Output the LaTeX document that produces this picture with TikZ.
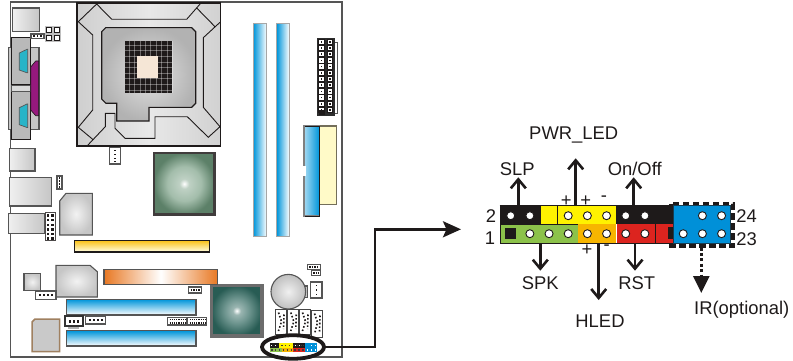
\documentclass[tikz,border=0pt]{standalone}
\usepackage{fontspec}
\setmainfont{Liberation Sans}
\usetikzlibrary{positioning, arrows.meta, shapes.geometric}
\definecolor{edgegray}{HTML}{555555}
\definecolor{inkdark}{HTML}{1E1A1A}
\definecolor{slotblue}{HTML}{0095DA}
\definecolor{jfpblue}{HTML}{0090D8}
\definecolor{jfpgreen}{HTML}{8CC24A}
\definecolor{jfporange}{HTML}{F7B500}
\definecolor{jfpred}{HTML}{DC241F}
\definecolor{jfpyellow}{HTML}{FFF200}
\definecolor{nbgreen}{HTML}{5C8068}
\definecolor{nbmid}{HTML}{A3BDAB}
\definecolor{sbteal}{HTML}{285C54}
\definecolor{sbmid}{HTML}{6F9690}
\pgfdeclareradialshading{nbglow}{\pgfpoint{0bp}{0bp}}{color(0bp)=(white); color(4bp)=(nbmid!70!white); color(14bp)=(nbmid); color(25bp)=(nbgreen); color(50bp)=(nbgreen)}
\pgfdeclareradialshading{sbglow}{\pgfpoint{0bp}{0bp}}{color(0bp)=(white); color(4bp)=(sbmid!70!white); color(12bp)=(sbmid); color(25bp)=(sbteal); color(50bp)=(sbteal)}
\tikzset{
  outline/.style={draw=edgegray, line width=1.1pt},
  chip/.style={outline, inner color=gray!10, outer color=gray!45},
  metal/.style={outline, left color=gray!12, right color=gray!45},
  slotv/.style={draw=gray!70, line width=1.2pt, left color=slotblue, middle color=slotblue!65!white, right color=white},
  sloth/.style={draw=edgegray, line width=1.1pt, top color=slotblue, bottom color=white},
  plug/.style={draw=edgegray, fill=white, line width=1.6pt},
  dot/.style={fill=inkdark, minimum size=1.8pt, inner sep=0pt},
  atxpin/.style={draw=inkdark, fill=white, line width=1pt, minimum size=5.4pt, inner sep=0pt},
  hole/.style={circle, draw=inkdark, fill=white, line width=.9pt, minimum size=8pt, inner sep=0pt},
  lbl/.style={text=inkdark, inner sep=0pt, font=\fontsize{18.4}{20}\selectfont},
  callout/.style={draw=inkdark, line width=2.6pt, -{Straight Barb[length=9pt,width=15pt]}},
}
\begin{document}
\begin{tikzpicture}[x=1pt,y=-1pt]
\useasboundingbox (0,0) rectangle (793,361);
% board
\draw[edgegray, line width=1.2pt] (10.5,2) rectangle (342,357);
% back panel
\draw[metal] (12.3,8) rectangle (39.7,31.7);
\draw[outline, fill=gray!45] (8.3,47.7) rectangle (39,129.3);
\draw[inkdark, fill=gray!55, line width=1pt] (11,37.3) rectangle (30.7,85);
\draw[inkdark, fill=gray!55, line width=1pt] (11,91.7) rectangle (30.7,139.3);
\draw[edgegray, fill=gray!30, line width=.8pt] (11,85) rectangle (30.7,91.7);
\draw[inkdark, fill={rgb,255:red,150;green,25;blue,125}, line width=.6pt] (30.7,67) -- (35.7,61) -- (38.7,61) -- (38.7,115.7) -- (35.7,115.7) -- (30.7,110) -- cycle;
\foreach \y in {0,54.7}
  \draw[edgegray, fill={rgb,255:red,40;green,180;blue,200}, line width=.7pt] (19.3,53+\y) -- (27,49.3+\y) -- (27.7,49.3+\y) -- (27.7,72.7+\y) -- (26.7,72.7+\y) -- (19.3,70+\y) -- cycle;
\draw[metal] (9.3,148.3) rectangle (35,171);
\draw[metal] (9.3,177.7) rectangle (51.7,206);
\draw[metal] (8.3,213.7) rectangle (45,233.3);
% socket
\draw[inkdark, line width=1.1pt, left color=gray!38, right color=gray!36, middle color=gray!18] (77,3) rectangle (220.7,146);
\draw[inkdark, line width=1.1pt, inner color=gray!22, outer color=gray!60] (101.7,31.7) -- (105.7,27.7) -- (191.7,27.7) -- (195.7,31.7) -- (195.7,103.3) -- (191.7,107.3) -- (149,107.3) -- (149,121) -- (116.7,121) -- (116.7,103.3) -- (106,103.3) -- (101.7,99) -- cycle;
\draw[inkdark, line width=.9pt] (78.3,21.7) -- (96.7,4) -- (111.7,19.3) -- (186.7,19.3) -- (200.7,3.3)
  (196.7,8) -- (215,26.7) (220,22.3) -- (203.3,37.7) -- (203.3,107.3) -- (220,126.7)
  (220,126.7) -- (208.3,137.3) -- (187.3,116.7) -- (155,116.7) -- (155,138.3) -- (125,138.3) -- (115,128.3) -- (115,113.3) -- (105.3,113.3) -- (105.3,126.7) -- (87.3,145.7)
  (78.3,21.7) -- (92.7,35) -- (92.7,110) -- (78.3,127.3) -- (92.7,139.3);
\fill[inkdark] (125,41) rectangle (172.3,92.7);
\foreach \i in {0,...,8} {
  \draw[white, opacity=.35, line width=.45pt] (125,45+5.6*\i) -- (172.3,45+5.6*\i);
  \draw[white, opacity=.35, line width=.45pt] (129+5.4*\i,41) -- (129+5.4*\i,92.7);
}
\fill[fill={rgb,255:red,245;green,230;blue,214}] (137,55.7) rectangle (158.3,77.7);
% chips
\draw[line width=2.6pt, draw=inkdark!85, shading=nbglow] (154,153) rectangle (214.5,214.5);
\draw[line width=3.4pt, draw=gray!85!black, shading=sbglow] (211.5,285.5) rectangle (262,336);
\draw[chip] (66,193.3) -- (92.3,193.3) -- (92.3,235) -- (59.7,235) -- (59.7,201) -- cycle;
\draw[chip] (56,265.3) -- (90,265.3) -- (97.3,271.7) -- (97.3,297) -- (56,297) -- cycle;
\draw[chip] (24,273.7) rectangle (40.7,290.3);
\draw[draw=brown!50!gray, line width=1.5pt, fill=gray!42] (35,319) -- (59.5,319) -- (59.5,351.5) -- (32,351.5) -- (32,322) -- cycle;
% slots
\draw[slotv] (253.3,23.3) rectangle (266.7,236.7);
\draw[slotv] (276.7,23.3) rectangle (289.3,236.7);
\draw[sloth] (66.3,299.3) rectangle (196,315);
\draw[sloth] (66.3,330.7) rectangle (196,346);
\draw[draw=inkdark, line width=1.1pt, top color={rgb,255:red,250;green,195;blue,30}, bottom color=white!90!yellow] (74.3,240.8) rectangle (209.3,252);
\draw[draw=edgegray, line width=1.1pt, left color={rgb,255:red,232;green,120;blue,35}, right color={rgb,255:red,232;green,120;blue,35}, middle color=white] (104,269.3) rectangle (217.7,284.3);
\draw[draw={rgb,255:red,115;green,110;blue,90}, line width=1.4pt, fill={rgb,255:red,255;green,250;blue,200}] (319.3,126) rectangle (336.7,204.3);
\draw[draw=gray, line width=1.4pt, left color=slotblue!35!white, right color=slotblue] (304,126) rectangle (319.3,216);
\draw[inkdark, line width=.9pt] (305,126) -- (319.3,126) -- (319.3,216) -- (305,216);
\fill[white] (303,166) rectangle (306,176);
% headers
\draw[edgegray, line width=.8pt] (335.3,42) -- (337.3,42) -- (337.3,113) -- (335.3,113);
\fill[gray!35!black] (316.7,37.7) rectangle (335.3,116);
\foreach \i in {0,...,11} {
  \node[atxpin] (atxa\i) at (321.5,41.8+6.2*\i) {};
  \node[atxpin] (atxb\i) at (330,41.8+6.2*\i) {};
  \node[dot, minimum size=1.6pt] (atxc\i) at (321.5,41.8+6.2*\i) {};
  \node[dot, minimum size=1.6pt] (atxd\i) at (330,41.8+6.2*\i) {};
}
\fill[inkdark] (319,110) rectangle (325,115);
\fill[gray!50] (45,26) rectangle (60.7,42.3);
\foreach \x/\y in {49/30,57/30,49/38,57/38} \node[atxpin] (atx\x\y) at (\x,\y) {};
\draw[plug] (31,34) rectangle (44,38.5);
\foreach \x in {34,37.5,41} \node[dot] (sm\x) at (\x,36.2) {};
\draw[plug] (109.5,147.5) rectangle (120.5,164);
\foreach \y in {150.5,154.5,158.5,161.5} \node[dot] (fan\y) at (115,\y) {};
\draw[plug] (57,175.7) rectangle (62,188.7);
\foreach \y in {178,181,184,187} \node[dot] (jp\y) at (59.5,\y) {};
\draw[inkdark!80, fill=white, line width=1pt] (45.6,212) rectangle (55,240.4);
\foreach \i in {0,...,5} {
  \node[dot, minimum size=2.4pt] (usba\i) at (48,215.5+4.6*\i) {};
  \node[dot, minimum size=2.4pt] (usbb\i) at (52.5,215.5+4.6*\i) {};
}
\draw[plug] (35.5,291) rectangle (56,299.5);
\foreach \x in {40,44,48,52} \node[dot] (sys\x) at (\x,295.3) {};
\fill[gray!60] (68,326) rectangle (79,329);
\draw[plug, line width=2pt, draw=gray!40!black] (65,316.3) rectangle (83,326.3);
\foreach \x in {70,74,78} \node[dot, minimum size=2.4pt] (pwr\x) at (\x,321.3) {};
\draw[plug] (85.6,316) rectangle (105.4,324);
\foreach \x in {90,94,98,102} \node[dot] (cd\x) at (\x,320) {};
\foreach \x in {167.5,187.5} {
  \draw[plug, line width=1.3pt] (\x,317.5) rectangle (\x+19,325);
  \draw[inkdark, line width=1.2pt, densely dotted] (\x+2,319.5) -- (\x+18,319.5) (\x+2,323) -- (\x+18,323);
}
\draw[plug, line width=1.3pt] (188.5,287) rectangle (201.5,293);
\draw[inkdark, line width=1.6pt, densely dotted] (190.5,290) -- (200,290);
\draw[plug, line width=1.2pt] (307.3,264.3) rectangle (320.7,269.3);
\draw[inkdark, line width=1.6pt, densely dotted] (309,266.8) -- (319,266.8);
\draw[plug, line width=1.2pt] (311.5,270.3) rectangle (320.7,275.3);
\draw[inkdark, line width=1.6pt, densely dotted] (313,272.8) -- (319,272.8);
\draw[plug, line width=1.2pt] (310.5,282) rectangle (322,298);
\foreach \y in {285.5,290,294.5} \node[dot] (bat\y) at (316.5,\y) {};
\foreach \x/\y/\h in {275.5/309.5/24.5,287.8/309.5/24.5,299.5/309.5/24.5,311.5/310.5/26.5} {
  \draw[gray!55!black, fill=white, line width=1pt] (\x,\y) rectangle (\x+11,\y+\h);
  \draw[inkdark, line width=1.6pt, dotted] (\x+3,\y+3) -- (\x+6,\y+12) -- (\x+3,\y+\h-3);
  \draw[inkdark, line width=1.6pt, dotted] (\x+8.5,\y+5) -- (\x+8,\y+\h-5);
}
% battery
\draw[outline, fill=gray!45] (300,286) -- (307.7,286) -- (307.7,297.3) -- (300,297.3) -- cycle;
\draw[outline, inner color=gray!12, outer color=gray!50] (288.3,291.7) circle (17.3);
% ring round the small header
\node[ellipse, draw=inkdark, fill=white, line width=3.8pt, minimum width=62pt, minimum height=23.5pt, inner sep=0pt] (ring) at (293,347) {};
\fill[inkdark] (269.5,343) rectangle (317,347.7);
\fill[jfpyellow] (279,343) rectangle (293.3,347.7);
\fill[jfpgreen] (269.5,347.7) rectangle (281.7,352);
\fill[jfporange] (281.7,347.7) rectangle (293.3,352);
\fill[jfpred] (293.3,347.7) rectangle (305,352);
\fill[jfpblue] (305,343) rectangle (316.5,352);
\draw[inkdark!85, line width=1.6pt, dash pattern=on 1.5pt off 2.4pt] (271,350) -- (304,350) (281,345.3) -- (303,345.3);
\draw[white, line width=1.4pt, dash pattern=on 1.4pt off 2.6pt] (271,345.3) -- (278,345.3) (295,345.3) -- (303,345.3) (307,350) -- (316,350) (311,345.3) -- (316,345.3);
% connector to the enlarged header
\coordinate (bend) at (375,229.3);
\coordinate (bigtip) at (461,229.3);
\draw[inkdark, line width=2.7pt, -{Stealth[length=18pt,width=16pt,inset=3.5pt]}] (ring.east) -| (bend) -- (bigtip);
% enlarged header
\draw[inkdark, line width=4pt, dash pattern=on 6.5pt off 3.5pt] (671,203.5) rectangle (733,245.5);
\node[fill=inkdark, minimum width=41pt, minimum height=19pt, inner sep=0pt] (blacka) at (520,214.5) {};
\node[fill=jfpyellow, minimum width=75.5pt, minimum height=19pt, inner sep=0pt, right=0pt of blacka] (yellowa) {};
\node[fill=inkdark, minimum width=57pt, minimum height=19pt, inner sep=0pt, right=0pt of yellowa] (blackb) {};
\node[fill=jfpgreen, minimum width=77.5pt, minimum height=19pt, inner sep=0pt] (greena) at (538.75,233.5) {};
\node[fill=jfporange, minimum width=38.5pt, minimum height=19pt, inner sep=0pt, right=0pt of greena] (orangea) {};
\node[fill=jfpred, minimum width=39pt, minimum height=19pt, inner sep=0pt, right=0pt of orangea] (reda) {};
\node[fill=jfpred, minimum width=18pt, minimum height=19pt, inner sep=0pt, right=0pt of reda] (redb) {};
\draw[inkdark, line width=1pt] (499.5,205) -- (616,205) (557,205) -- (557,224) (616,205) -- (616,224) (500,224) -- (577.5,224) (500,224) -- (500,243) -- (673,243) (655,224) -- (655,243);
\fill[inkdark] (668,227) rectangle (673,239);
\node[fill=jfpblue, draw=inkdark!70!jfpblue, line width=.9pt, minimum width=57pt, minimum height=38pt, inner sep=0pt] (irblock) at (701.7,224) {};
\foreach \i in {0,1,3,4,5,6,7,10,11}
  \node[hole] (up\i) at ({510.7+19.17*\i},215.7) {};
\foreach \i in {1,...,7,9,10,11}
  \node[hole] (low\i) at ({510.7+19.17*\i},233.7) {};
\node[fill=inkdark, minimum size=11pt, inner sep=0pt] (pinone) at (510.7,233.7) {};
% labels
\node[lbl] (lblpwr) at (573.7,135) {PWR\_LED};
\node[lbl] (lblslp) at (517.3,169) {SLP};
\node[lbl] (lblonoff) at (634.7,169) {On/Off};
\node[lbl] (lbltwo) at (491,216) {2};
\node[lbl] (lblone) at (490,238.5) {1};
\node[lbl] (lbltwentyfour) at (746.7,216) {24};
\node[lbl] (lbltwentythree) at (746.7,239) {23};
\node[lbl] (lblspk) at (540.3,282.7) {SPK};
\node[lbl] (lblhled) at (600,321) {HLED};
\node[lbl] (lblrst) at (636.7,282.7) {RST};
\node[lbl] (lblir) at (741.7,309.3) {IR(optional)};
\node[lbl] (plusa) at (566.3,201.5) {+};
\node[lbl] (plusb) at (585.7,201.5) {+};
\node[lbl] (minusa) at (604,198.5) {-};
\node[lbl] (plusc) at (587,250) {+};
\node[lbl] (minusb) at (606.7,247.5) {-};
% callouts
\coordinate (slpfoot) at (518.3,205);
\coordinate (slptip) at (518.3,177.3);
\coordinate (pwrfoot) at (575.7,205);
\coordinate (pwrtip) at (575.7,158.3);
\coordinate (onofffoot) at (633.7,205);
\coordinate (onofftip) at (633.7,177.3);
\coordinate (spkfoot) at (540.3,243);
\coordinate (spktip) at (540.3,270.7);
\coordinate (hledfoot) at (598.7,243);
\coordinate (hledtip) at (598.7,300);
\coordinate (rstfoot) at (635,243);
\coordinate (rsttip) at (635,270.7);
\coordinate (irfoot) at (701.3,247.5);
\coordinate (irtip) at (701.3,293);
\draw[callout] (slpfoot) -- (slptip);
\draw[callout] (pwrfoot) -- (pwrtip);
\draw[callout] (onofffoot) -- (onofftip);
\draw[callout] (spkfoot) -- (spktip);
\draw[callout] (hledfoot) -- (hledtip);
\draw[callout] (rstfoot) -- (rsttip);
\draw[draw=inkdark, line width=2.6pt, dash pattern=on 3pt off 2.4pt, -{Stealth[length=17pt,width=16pt,inset=0pt]}] (irfoot) -- (irtip);
\end{tikzpicture}
\end{document}
